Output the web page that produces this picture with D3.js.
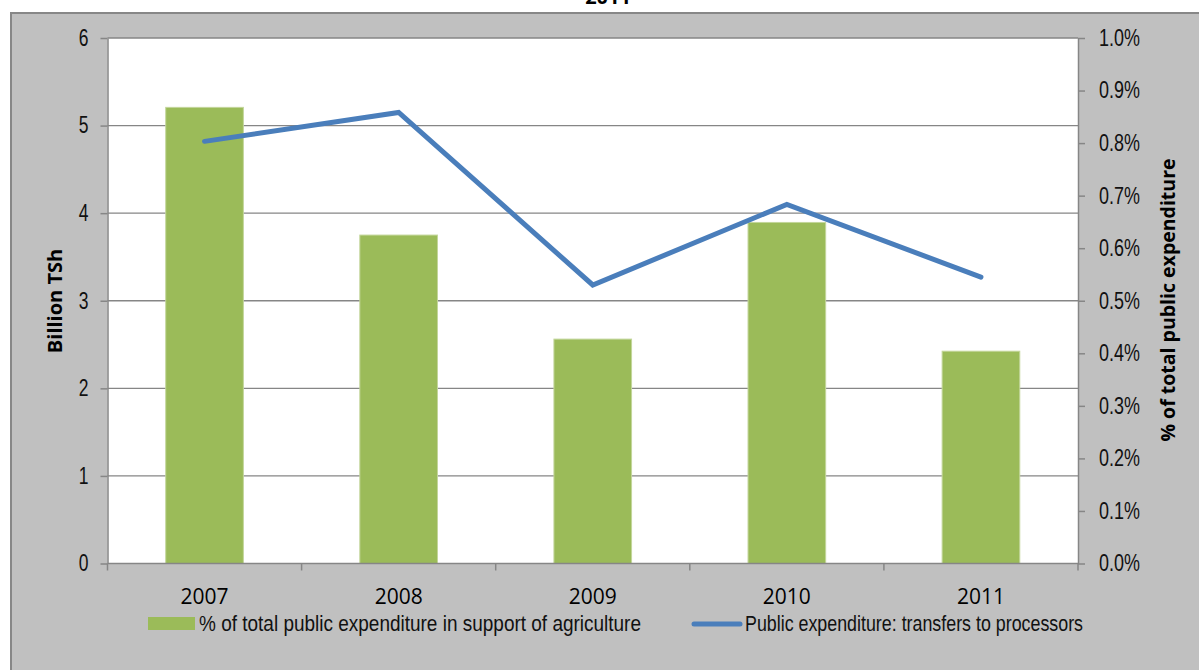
<!DOCTYPE html>
<html>
<head>
<meta charset="utf-8">
<script src="https://cdn.jsdelivr.net/npm/d3@7"></script>
<style>
  html, body { margin: 0; padding: 0; background: #ffffff; }
  svg { display: block; }
</style>
</head>
<body>
<svg id="chart" width="1199" height="670"></svg>
<script>
// Tanzania: public support to processors, 2007-2011
const years = ["2007", "2008", "2009", "2010", "2011"];
// Share of total public expenditure in support of agriculture (%)
const shareOfAgSupport = [0.868, 0.625, 0.427, 0.649, 0.404];
// Public expenditure: transfers to processors (billion TSh)
const transfersBillion = [4.82, 5.15, 3.18, 4.10, 3.27];
const leftTicks = [0, 1, 2, 3, 4, 5, 6];
const rightTicks = [0, 0.1, 0.2, 0.3, 0.4, 0.5, 0.6, 0.7, 0.8, 0.9, 1.0];
const titleText = "2011";
const leftTitle = "Billion TSh";
const rightTitle = "% of total public expenditure";
const barLegend = "% of total public expenditure in support of agriculture";
const lineLegend = "Public expenditure: transfers to processors";

const svg = d3.select("#chart");
const plot = { left: 107.5, right: 1078, top: 38, bottom: 563.5 };
const axisGray = "#868686";
const sans = "'Liberation Sans', Arial, sans-serif";

// squeeze a text horizontally to get a condensed face
function condense(sel, factor) {
  sel.each(function () {
    const w = this.getComputedTextLength();
    d3.select(this).attr("textLength", w * factor).attr("lengthAdjust", "spacingAndGlyphs");
  });
}

// chart frame
svg.append("rect")
  .attr("x", 11).attr("y", 13).attr("width", 1220).attr("height", 700)
  .attr("fill", "#c0c0c0").attr("stroke", "#878787").attr("stroke-width", 2);

// title (sits above the frame)
svg.append("text")
  .attr("x", 608).attr("y", 4)
  .attr("text-anchor", "middle")
  .attr("font-family", "'Open Sans', sans-serif")
  .attr("font-weight", "bold").attr("font-size", 20)
  .attr("fill", "#000").text(titleText);

// plot area
svg.append("rect")
  .attr("x", plot.left).attr("y", plot.top)
  .attr("width", plot.right - plot.left).attr("height", plot.bottom - plot.top)
  .attr("fill", "#ffffff");

const x = d3.scaleBand().domain(years).range([plot.left, plot.right]).paddingInner(0).paddingOuter(0);
const yLeft = d3.scaleLinear().domain([0, 6]).range([plot.bottom, plot.top]);
const yRight = d3.scaleLinear().domain([0, 1.0]).range([plot.bottom, plot.top]);

// horizontal gridlines on the primary axis
svg.append("g").selectAll("line").data(leftTicks.filter(d => d > 0)).join("line")
  .attr("x1", plot.left).attr("x2", plot.right)
  .attr("y1", d => yLeft(d)).attr("y2", d => yLeft(d))
  .attr("stroke", axisGray).attr("stroke-width", 1.3);

// bars: share of agriculture support (secondary axis)
const barW = x.bandwidth() * 0.4;
svg.append("g").selectAll("rect").data(years).join("rect")
  .attr("x", d => x(d) + (x.bandwidth() - barW) / 2)
  .attr("width", barW)
  .attr("y", (d, i) => yRight(shareOfAgSupport[i]))
  .attr("height", (d, i) => plot.bottom - yRight(shareOfAgSupport[i]))
  .attr("fill", "#9bbb59")
  .attr("stroke", "#c3d69b").attr("stroke-width", 1);

// line: transfers to processors (primary axis)
const line = d3.line()
  .x((d, i) => x(years[i]) + x.bandwidth() / 2)
  .y(d => yLeft(d));
svg.append("path").datum(transfersBillion)
  .attr("d", line)
  .attr("fill", "none").attr("stroke", "#4a7ebb")
  .attr("stroke-width", 5).attr("stroke-linecap", "round").attr("stroke-linejoin", "miter");

// axes
function styleAxis(g) {
  g.select(".domain").attr("stroke", axisGray).attr("stroke-width", 1.5);
  g.selectAll(".tick line").attr("stroke", axisGray).attr("stroke-width", 1.5);
}

const leftAxis = svg.append("g")
  .attr("transform", `translate(${plot.left},0)`)
  .call(d3.axisLeft(yLeft).tickValues(leftTicks).tickFormat(d3.format("d")).tickSize(7).tickSizeOuter(0).tickPadding(12));
styleAxis(leftAxis);
leftAxis.selectAll("text").attr("font-family", sans).attr("font-size", 23).attr("fill", "#111").call(condense, 0.76);

const rightAxis = svg.append("g")
  .attr("transform", `translate(${plot.right},0)`)
  .call(d3.axisRight(yRight).tickValues(rightTicks).tickFormat(d => d3.format(".1f")(d) + "%").tickSize(7).tickSizeOuter(0).tickPadding(14));
styleAxis(rightAxis);
rightAxis.selectAll("text").attr("font-family", sans).attr("font-size", 23).attr("fill", "#111").call(condense, 0.78);

// category axis with ticks between categories
const xAxis = svg.append("g").attr("transform", `translate(0,${plot.bottom})`);
xAxis.append("line")
  .attr("x1", plot.left).attr("x2", plot.right)
  .attr("stroke", axisGray).attr("stroke-width", 1.5);
const boundaries = years.map(d => x(d)).concat([plot.right]);
xAxis.selectAll("line.tick").data(boundaries).join("line")
  .attr("class", "tick")
  .attr("x1", d => d).attr("x2", d => d)
  .attr("y1", 0).attr("y2", 7)
  .attr("stroke", axisGray).attr("stroke-width", 1.5);
xAxis.selectAll("text").data(years).join("text")
  .attr("x", d => x(d) + x.bandwidth() / 2)
  .attr("y", 40)
  .attr("text-anchor", "middle")
  .attr("font-family", "'Open Sans', sans-serif")
  .attr("font-size", 21).attr("font-weight", 500).attr("fill", "#000")
  .text(d => d);

// axis titles
svg.append("text")
  .attr("transform", "translate(62,301) rotate(-90)")
  .attr("text-anchor", "middle")
  .attr("font-family", "'Open Sans', sans-serif")
  .attr("font-weight", "bold").attr("font-size", 20).attr("fill", "#000")
  .text(leftTitle);
svg.append("text")
  .attr("transform", "translate(1175,300) rotate(-90)")
  .attr("text-anchor", "middle")
  .attr("font-family", "'Open Sans', sans-serif")
  .attr("font-weight", "bold").attr("font-size", 19.5).attr("fill", "#000")
  .text(rightTitle);

// legend
const legend = svg.append("g");
legend.append("rect")
  .attr("x", 148).attr("y", 617).attr("width", 47).attr("height", 13)
  .attr("fill", "#9bbb59");
legend.append("text")
  .attr("x", 199).attr("y", 631)
  .attr("font-family", sans).attr("font-size", 22).attr("fill", "#111")
  .attr("textLength", 442).attr("lengthAdjust", "spacingAndGlyphs")
  .text(barLegend);
legend.append("line")
  .attr("x1", 694).attr("x2", 740).attr("y1", 624).attr("y2", 624)
  .attr("stroke", "#4a7ebb").attr("stroke-width", 5).attr("stroke-linecap", "round");
legend.append("text")
  .attr("x", 745).attr("y", 631)
  .attr("font-family", sans).attr("font-size", 22).attr("fill", "#111")
  .attr("textLength", 338).attr("lengthAdjust", "spacingAndGlyphs")
  .text(lineLegend);
</script>
</body>
</html>
